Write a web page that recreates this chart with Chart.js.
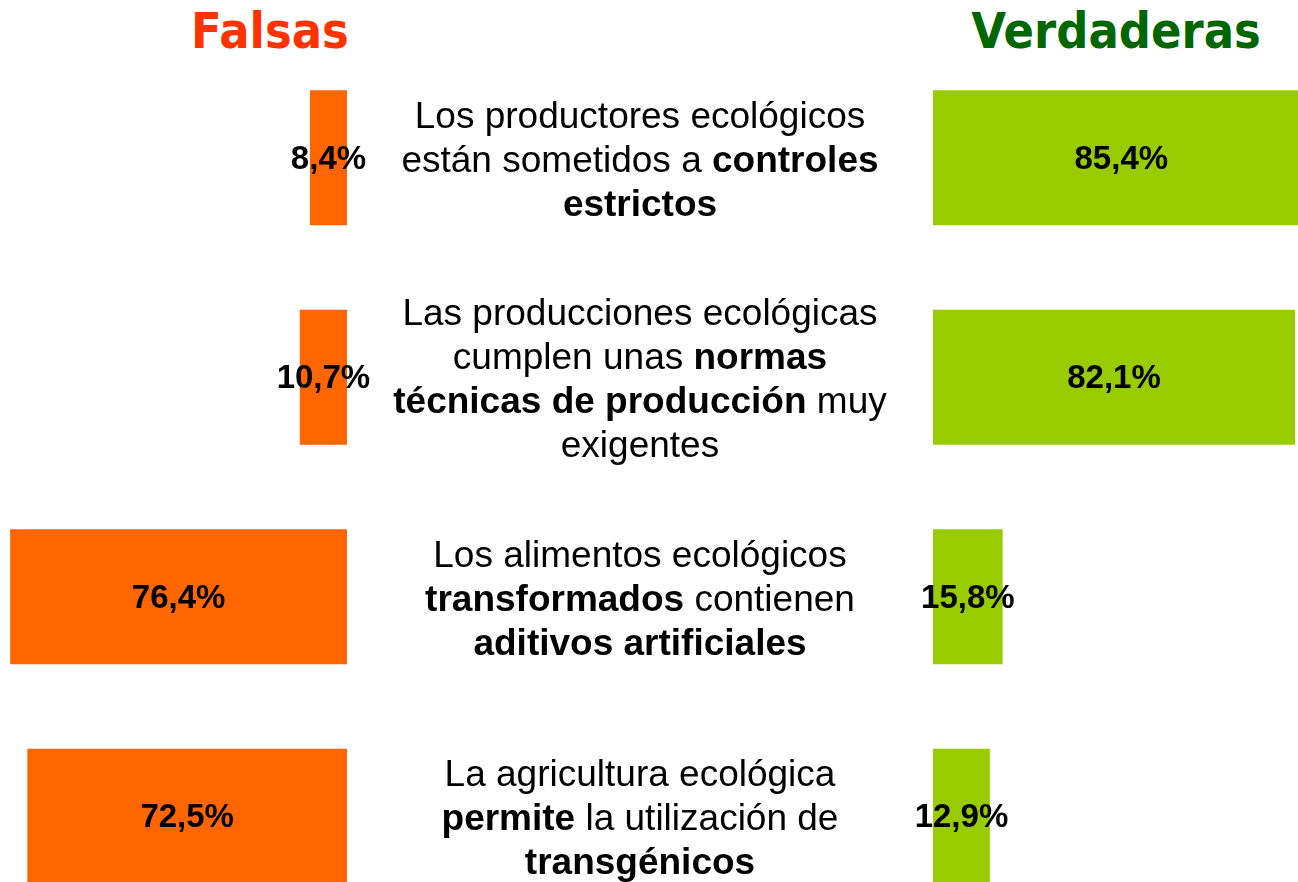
<!DOCTYPE html>
<html>
<head>
<meta charset="utf-8">
<script src="https://cdn.jsdelivr.net/npm/chart.js@4/dist/chart.umd.min.js"></script>
<style>
  html, body { margin: 0; padding: 0; background: #fff; overflow: hidden; }
  body { width: 1298px; height: 882px; position: relative; }
  canvas { position: absolute; }
  .title {
    position: absolute; top: 31px;
    font-family: "DejaVu Sans", sans-serif; font-weight: bold; font-size: 45px;
    white-space: nowrap; transform: translate(-50%, -50%) scaleY(1.12);
  }
  .stmt {
    position: absolute; left: 640px; width: 600px; margin-left: -300px;
    font-family: "Liberation Sans", Arial, sans-serif; font-size: 37px; line-height: 44px;
    text-align: center; white-space: nowrap; color: #000;
    transform: translateY(-50%);
  }
</style>
</head>
<body>
<div class="title" style="left:270px;color:#ff3300">Falsas</div>
<div class="title" style="left:1116px;color:#006600">Verdaderas</div>
<canvas id="leftChart" width="400" height="878" style="left:0;top:48px"></canvas>
<canvas id="rightChart" width="460" height="878" style="left:880px;top:48px"></canvas>

<script>
// ======================
// DATA
// ======================
const categories = ["controles", "normas", "aditivos", "transgenicos"];
const falsas = [8.4, 10.7, 76.4, 72.5];
const verdaderas = [85.4, 82.1, 15.8, 12.9];

// statement lines, *...* marks the bold parts
const statements = [
  ["Los productores ecológicos", "están sometidos a *controles*", "*estrictos*"],
  ["Las producciones ecológicas", "cumplen unas *normas*", "*técnicas de producción* muy", "exigentes"],
  ["Los alimentos ecológicos", "*transformados* contienen", "*aditivos artificiales*"],
  ["La agricultura ecológica", "*permite* la utilización de", "*transgénicos*"],
];

// ======================
// BAR LABELS PLUGIN
// ======================
const barLabels = {
  id: "barLabels",
  afterDatasetsDraw(chart) {
    const ctx = chart.ctx;
    const meta = chart.getDatasetMeta(0);
    const values = chart.data.datasets[0].data;

    ctx.save();
    ctx.font = "bold 33px 'Liberation Sans', Arial, sans-serif";
    ctx.fillStyle = "#000";
    ctx.textAlign = "center";
    ctx.textBaseline = "middle";

    meta.data.forEach((bar, i) => {
      const cx = (bar.x + bar.base) / 2;
      ctx.fillText(values[i].toFixed(1).replace(".", ",") + "%", cx, bar.y + 2);
    });
    ctx.restore();
  },
};

function makeChart(id, values, color, reverse, max, padding) {
  return new Chart(document.getElementById(id).getContext("2d"), {
    type: "bar",
    data: {
      labels: categories,
      datasets: [
        {
          data: values,
          backgroundColor: color,
          borderWidth: 0,
          categoryPercentage: 1,
          barPercentage: 0.615,
        },
      ],
    },
    options: {
      indexAxis: "y",
      responsive: false,
      animation: false,
      devicePixelRatio: 1,
      layout: { padding: padding },
      plugins: { legend: { display: false }, tooltip: { enabled: false } },
      scales: {
        x: { display: false, min: 0, max: max, reverse: reverse },
        y: { display: false },
      },
    },
    plugins: [barLabels],
  });
}

const leftChart = makeChart("leftChart", falsas, "#ff6600", true, 78.7, { left: 0, right: 53 });
const rightChart = makeChart("rightChart", verdaderas, "#99cc00", false, 92.3, { left: 53, right: 0 });

// ======================
// STATEMENT TEXT
// ======================
function renderLine(line) {
  return line.replace(/\*([^*]+)\*/g, "<b>$1</b>");
}

const topOffset = 48;
statements.forEach((lines, i) => {
  const div = document.createElement("div");
  div.className = "stmt";
  div.style.top = topOffset + leftChart.scales.y.getPixelForValue(i) + 2 + "px";
  div.innerHTML = lines.map(renderLine).join("<br>");
  document.body.appendChild(div);
});
</script>
</body>
</html>
